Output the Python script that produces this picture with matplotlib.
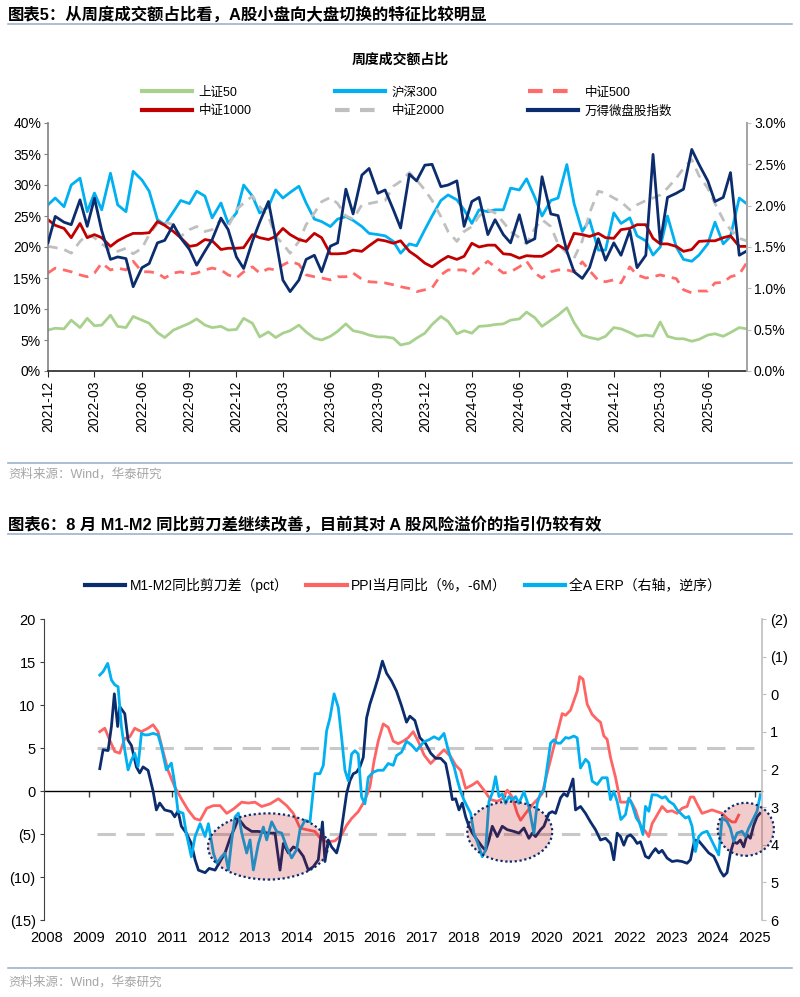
import numpy as np
import pandas as pd
import matplotlib
matplotlib.use("Agg")
import matplotlib.pyplot as plt
import matplotlib.dates as mdates
from matplotlib.patches import Ellipse
from matplotlib.lines import Line2D
from matplotlib.ticker import FuncFormatter

plt.rcParams['font.family'] = ['Liberation Sans', 'Noto Sans CJK SC', 'DejaVu Sans']
plt.rcParams['axes.unicode_minus'] = False

# ---------------- 图表5 data (semi-monthly, %)
dates5 = pd.date_range('2021-12-01', '2025-08-15', freq='SMS')
x_ticks5 = pd.date_range('2021-12-01', '2025-06-01', freq='3MS')

sz50 = [6.6, 6.9, 6.8, 8.2, 7.0, 8.5,
        7.3, 7.4, 9.0, 7.2, 7.0, 8.8,
        8.2, 7.7, 6.2, 5.4, 6.6, 7.1,
        7.7, 8.4, 7.4, 7.0, 7.2, 6.6,
        6.7, 8.5, 7.7, 5.5, 6.3, 5.4,
        6.1, 6.5, 7.4, 6.3, 5.3, 5.0,
        5.6, 6.4, 7.6, 6.5, 6.2, 5.8,
        5.5, 5.5, 5.3, 4.2, 4.5, 5.3,
        6.1, 7.5, 8.8, 8.0, 6.0, 6.5,
        6.1, 7.2, 7.3, 7.5, 7.6, 8.2,
        8.4, 9.5, 8.6, 7.2, 8.2, 9.0,
        10.2, 7.8, 5.8, 5.4, 5.1, 5.6,
        7.0, 6.8, 6.2, 5.6, 5.8, 5.6,
        7.9, 5.6, 5.2, 5.2, 4.8, 5.1,
        5.8, 6.0, 5.6, 6.2, 7.0, 6.8]

hs300 = [26.8, 27.9, 26.5, 30.0, 31.1, 25.7,
         28.7, 26.0, 31.9, 26.8, 25.7, 32.2,
         30.8, 29.0, 24.4, 23.6, 25.7, 27.5,
         27.0, 29.0, 28.2, 24.7, 27.1, 23.8,
         25.5, 30.0, 28.2, 25.5, 26.5, 29.2,
         27.9, 28.8, 29.8, 27.1, 24.5, 24.1,
         23.3, 24.5, 24.9, 24.3, 23.3, 22.2,
         22.0, 21.8, 20.9, 19.0, 20.5, 20.2,
         22.8, 25.0, 27.5, 28.4, 27.6, 26.0,
         23.8, 26.0, 25.7, 26.0, 26.0, 29.5,
         29.2, 31.0, 28.0, 25.0, 27.5, 27.9,
         33.3, 27.0, 22.5, 24.4, 19.5, 19.5,
         25.5, 23.8, 24.7, 21.8, 21.0, 18.7,
         20.0, 25.0, 20.0, 18.0, 17.7, 18.7,
         20.5, 24.0, 20.5, 21.7, 27.9, 27.0]

csi500 = [15.8, 16.6, 16.3, 16.0, 15.5, 15.2,
          15.8, 17.4, 16.3, 16.6, 16.3, 17.7,
          16.0, 16.0, 15.8, 15.0, 15.8, 16.0,
          15.6, 15.8, 16.3, 16.6, 16.3, 15.5,
          15.0, 16.0, 16.8, 15.8, 16.5, 16.3,
          17.1, 17.7, 17.2, 15.5, 15.2, 15.0,
          14.7, 15.2, 15.2, 15.8, 14.8, 14.4,
          14.3, 14.2, 13.9, 13.6, 13.3, 12.8,
          13.1, 13.4, 15.5, 16.3, 16.3, 16.3,
          15.5, 16.6, 17.7, 16.8, 15.8, 16.0,
          16.8, 17.7, 15.8, 15.0, 16.0, 16.3,
          16.3, 16.0, 17.6, 16.2, 14.6, 14.4,
          14.7, 14.2, 16.8, 15.5, 15.0, 15.2,
          15.5, 15.2, 14.9, 13.1, 12.6, 12.9,
          12.9, 14.2, 14.3, 15.2, 15.6, 17.4]

csi1000 = [24.4, 23.5, 23.0, 21.5, 23.8, 21.5,
           22.0, 21.5, 20.1, 21.0, 21.7, 22.2,
           22.2, 22.3, 24.1, 23.5, 22.5, 21.5,
           20.1, 20.3, 21.2, 21.0, 19.6, 19.8,
           19.8, 19.9, 22.0, 21.5, 21.2, 21.7,
           23.0, 22.0, 21.2, 20.9, 22.2, 21.5,
           18.9, 18.9, 19.0, 19.5, 19.3, 20.2,
           21.2, 21.0, 20.6, 21.0, 19.3, 18.5,
           17.4, 16.8, 17.8, 18.5, 18.0, 18.5,
           20.6, 20.0, 20.3, 20.3, 18.9, 18.8,
           18.2, 18.6, 18.5, 18.5, 19.3, 20.3,
           19.5, 22.2, 22.0, 21.7, 22.2, 21.5,
           21.4, 22.8, 23.0, 23.6, 23.6, 21.4,
           20.5, 20.5, 20.1, 19.3, 19.6, 20.9,
           21.0, 21.0, 21.5, 21.8, 20.1, 20.1]

csi2000 = [20.1, 19.9, 19.6, 19.0, 20.9, 22.0,
           21.5, 20.5, 19.5, 19.3, 19.8, 18.9,
           19.8, 22.0, 23.8, 24.0, 23.6, 21.7,
           22.8, 23.3, 22.5, 22.8, 24.4, 23.3,
           26.0, 27.1, 28.2, 26.5, 24.9, 21.7,
           20.5, 19.0, 20.9, 23.6, 25.5, 27.3,
           28.0, 27.0, 25.0, 24.5, 26.8, 27.0,
           27.3, 27.5, 29.8, 30.6, 32.0, 30.8,
           29.2, 27.5, 24.9, 22.5, 20.9, 22.5,
           23.3, 25.0, 26.0, 25.5, 24.0, 22.5,
           21.5, 20.5, 23.0, 24.4, 23.3, 20.5,
           19.0, 18.2, 21.0, 25.5, 29.0, 28.7,
           27.9, 27.3, 26.0, 26.8, 27.5, 27.9,
           28.4, 29.5, 31.1, 32.7, 34.1, 31.5,
           29.5, 27.0, 24.4, 22.8, 21.4, 21.0]

# 万得微盘股指数, right axis
microcap = [1.55, 1.87, 1.80, 1.77, 2.07, 1.75,
            2.09, 1.70, 1.35, 1.38, 1.36, 1.02,
            1.25, 1.30, 1.55, 1.58, 1.77, 1.61,
            1.47, 1.28, 1.45, 1.59, 1.85, 1.71,
            1.38, 1.24, 1.57, 1.80, 2.05, 1.60,
            1.10, 0.96, 1.10, 1.35, 1.40, 1.20,
            1.51, 1.55, 2.20, 1.90, 2.37, 2.45,
            2.15, 2.19, 1.95, 1.73, 2.38, 2.30,
            2.49, 2.50, 2.23, 2.25, 2.30, 1.75,
            2.05, 2.10, 1.65, 1.83, 1.65, 1.55,
            1.89, 1.55, 1.60, 2.35, 1.90, 1.88,
            1.45, 1.20, 1.12, 1.25, 1.60, 1.34,
            1.55, 1.40, 1.70, 1.25, 1.40, 2.62,
            1.55, 2.10, 2.15, 2.20, 2.68, 2.50,
            2.30, 2.05, 2.10, 2.40, 1.40, 1.45]

# ---------------- 图表6 data (x in chart years)
m1m2_t = [2009.27, 2009.35, 2009.47, 2009.55, 2009.62, 2009.70, 2009.75, 2009.87, 2009.95, 2010.03,
          2010.15, 2010.23, 2010.31, 2010.43, 2010.55, 2010.63, 2010.71, 2010.83, 2010.99, 2011.07,
          2011.15, 2011.23, 2011.35, 2011.47, 2011.56, 2011.64, 2011.80, 2011.90, 2012.04, 2012.16,
          2012.28, 2012.40, 2012.52, 2012.60, 2012.76, 2012.92, 2013.08, 2013.20, 2013.32, 2013.48,
          2013.60, 2013.68, 2013.80, 2013.92, 2014.04, 2014.16, 2014.28, 2014.40, 2014.52, 2014.62,
          2014.68, 2014.76, 2014.84, 2014.96, 2015.04, 2015.12, 2015.20, 2015.28, 2015.36, 2015.44,
          2015.52, 2015.60, 2015.68, 2015.76, 2015.86, 2015.96, 2016.06, 2016.16, 2016.28, 2016.40,
          2016.52, 2016.64, 2016.72, 2016.84, 2016.96, 2017.10, 2017.22, 2017.34, 2017.46, 2017.58,
          2017.66, 2017.74, 2017.82, 2017.90, 2017.98, 2018.06, 2018.14, 2018.22, 2018.34, 2018.46,
          2018.54, 2018.62, 2018.70, 2018.82, 2018.94, 2019.06, 2019.22, 2019.34, 2019.46, 2019.58,
          2019.66, 2019.74, 2019.86, 2019.94, 2020.06, 2020.14, 2020.22, 2020.34, 2020.42, 2020.50,
          2020.58, 2020.64, 2020.70, 2020.82, 2020.94, 2021.06, 2021.18, 2021.30, 2021.42, 2021.54,
          2021.62, 2021.70, 2021.78, 2021.86, 2021.94, 2022.02, 2022.10, 2022.18, 2022.26, 2022.38,
          2022.46, 2022.54, 2022.62, 2022.70, 2022.78, 2022.90, 2023.02, 2023.14, 2023.26, 2023.38,
          2023.46, 2023.56, 2023.66, 2023.78, 2023.90, 2024.02, 2024.10, 2024.18, 2024.26, 2024.34,
          2024.42, 2024.50, 2024.58, 2024.66, 2024.74, 2024.82, 2024.90, 2024.98, 2025.06, 2025.13]
m1m2 = [2.6, 4.8, 4.7, 7.5, 11.3, 7.5, 9.8, 9.0, 5.9, 5.3,
        2.8, 2.1, 2.8, 2.4, 0.0, -2.2, -1.4, -2.2, -2.4, -3.0,
        -2.3, -4.1, -4.9, -6.1, -8.0, -9.2, -9.5, -9.0, -9.2, -8.2,
        -7.2, -5.5, -4.2, -3.2, -4.2, -4.7, -4.7, -4.8, -4.9, -4.9,
        -9.2, -6.1, -7.2, -6.5, -6.8, -7.6, -9.2, -8.8, -8.0, -3.6,
        -8.2, -5.7, -6.5, -7.2, -5.7, -3.0, -0.3, 1.2, 2.0, 2.2,
        2.8, 3.9, 8.5, 10.1, 11.6, 13.2, 15.1, 13.7, 12.8, 11.6,
        9.9, 8.0, 8.7, 8.2, 6.2, 5.5, 4.4, 3.8, 3.8, 3.2,
        1.3, -1.0, -0.9, -2.2, -1.4, -3.0, -4.1, -4.9, -5.7, -6.5,
        -6.9, -5.7, -4.1, -5.3, -4.1, -4.5, -4.7, -4.9, -4.3, -5.5,
        -4.9, -5.3, -4.5, -4.1, -2.6, -2.4, -2.6, -0.8, -0.3, -0.6,
        0.5, 1.4, -2.2, -1.8, -2.6, -3.6, -4.5, -5.7, -5.5, -6.1,
        -8.0, -4.9, -5.3, -6.3, -5.3, -5.1, -5.5, -6.1, -5.9, -7.6,
        -7.8, -7.2, -6.7, -7.2, -6.9, -7.8, -8.2, -8.1, -8.2, -8.4,
        -8.0, -5.7, -5.8, -6.5, -7.2, -7.6, -8.4, -9.3, -9.9, -9.5,
        -7.2, -5.9, -6.1, -5.7, -6.5, -5.1, -5.5, -4.0, -3.0, -2.6]

ppi_t = [2009.27, 2009.39, 2009.51, 2009.63, 2009.75, 2009.87, 2009.99, 2010.11, 2010.27, 2010.43,
         2010.55, 2010.67, 2010.79, 2010.91, 2011.07, 2011.23, 2011.39, 2011.55, 2011.68, 2011.84,
         2012.00, 2012.16, 2012.32, 2012.48, 2012.68, 2012.84, 2013.00, 2013.16, 2013.36, 2013.56,
         2013.76, 2013.92, 2014.08, 2014.24, 2014.44, 2014.60, 2014.76, 2014.92, 2015.08, 2015.20,
         2015.32, 2015.48, 2015.64, 2015.76, 2015.86, 2015.96, 2016.08, 2016.20, 2016.32, 2016.44,
         2016.56, 2016.68, 2016.80, 2016.92, 2017.06, 2017.22, 2017.38, 2017.54, 2017.70, 2017.82,
         2017.94, 2018.06, 2018.22, 2018.34, 2018.50, 2018.66, 2018.82, 2018.94, 2019.06, 2019.18,
         2019.30, 2019.38, 2019.50, 2019.66, 2019.78, 2019.90, 2020.02, 2020.14, 2020.26, 2020.38,
         2020.46, 2020.58, 2020.66, 2020.74, 2020.80, 2020.88, 2020.98, 2021.10, 2021.22, 2021.30,
         2021.38, 2021.46, 2021.54, 2021.66, 2021.78, 2021.90, 2022.02, 2022.14, 2022.26, 2022.38,
         2022.46, 2022.54, 2022.66, 2022.78, 2022.90, 2023.02, 2023.14, 2023.26, 2023.38, 2023.46,
         2023.54, 2023.62, 2023.74, 2023.86, 2023.98, 2024.10, 2024.22, 2024.34, 2024.46, 2024.54,
         2024.62]
ppi = [6.9, 7.3, 5.9, 4.6, 4.4, 6.1, 6.3, 7.3, 6.9, 7.3,
       7.7, 6.9, 4.6, 2.4, 0.5, -0.9, -2.2, -3.2, -3.4, -2.0,
       -1.7, -1.7, -2.6, -2.1, -1.3, -1.4, -1.3, -1.8, -1.5, -0.9,
       -1.7, -2.6, -4.3, -4.5, -4.7, -5.7, -5.9, -5.8, -5.1, -4.0,
       -3.2, -2.4, -1.1, 0.5, 3.5, 5.8, 7.8, 7.4, 5.8, 5.5,
       5.8, 6.2, 6.9, 5.8, 4.2, 3.2, 4.0, 4.8, 4.0, 3.0,
       2.4, 0.3, 0.7, 1.1, 0.1, -1.0, -1.2, -0.9, 0.1, -0.7,
       -2.6, -3.4, -2.6, -1.6, -1.0, -0.3, 2.1, 4.4, 6.7, 9.0,
       8.8, 9.4, 10.5, 11.6, 13.3, 13.0, 10.1, 8.9, 8.3, 8.0,
       6.4, 6.0, 3.9, 1.6, -1.3, -1.3, -1.1, -2.2, -4.0, -4.7,
       -5.3, -3.8, -2.8, -1.8, -2.4, -2.3, -2.6, -2.0, -1.8, -0.7,
       -0.7, -1.5, -2.6, -2.4, -2.2, -2.4, -2.6, -3.2, -3.6, -3.6,
       -2.8]

# 全A ERP, right axis (reversed)
erp_t = [2009.27, 2009.35, 2009.46, 2009.55, 2009.63, 2009.71, 2009.79, 2009.87, 2009.95, 2010.03,
         2010.11, 2010.19, 2010.27, 2010.35, 2010.43, 2010.55, 2010.67, 2010.75, 2010.87, 2010.99,
         2011.07, 2011.15, 2011.27, 2011.35, 2011.47, 2011.56, 2011.68, 2011.80, 2011.88, 2012.00,
         2012.08, 2012.20, 2012.28, 2012.36, 2012.44, 2012.52, 2012.60, 2012.68, 2012.80, 2012.88,
         2012.96, 2013.08, 2013.20, 2013.28, 2013.40, 2013.52, 2013.64, 2013.76, 2013.88, 2014.00,
         2014.08, 2014.20, 2014.32, 2014.44, 2014.56, 2014.64, 2014.72, 2014.80, 2014.90, 2015.00,
         2015.08, 2015.16, 2015.24, 2015.32, 2015.40, 2015.48, 2015.56, 2015.64, 2015.72, 2015.84,
         2015.96, 2016.08, 2016.20, 2016.32, 2016.40, 2016.52, 2016.64, 2016.76, 2016.88, 2016.96,
         2017.06, 2017.18, 2017.30, 2017.42, 2017.54, 2017.62, 2017.70, 2017.78, 2017.86, 2017.94,
         2018.02, 2018.10, 2018.18, 2018.26, 2018.35, 2018.46, 2018.54, 2018.62, 2018.70, 2018.78,
         2018.86, 2018.94, 2019.02, 2019.10, 2019.18, 2019.26, 2019.34, 2019.46, 2019.58, 2019.70,
         2019.78, 2019.86, 2019.94, 2020.02, 2020.10, 2020.18, 2020.26, 2020.34, 2020.46, 2020.54,
         2020.66, 2020.74, 2020.82, 2020.94, 2021.02, 2021.10, 2021.22, 2021.34, 2021.46, 2021.54,
         2021.62, 2021.70, 2021.79, 2021.90, 2021.98, 2022.06, 2022.16, 2022.24, 2022.32, 2022.38,
         2022.46, 2022.54, 2022.66, 2022.78, 2022.86, 2022.94, 2023.06, 2023.14, 2023.22, 2023.34,
         2023.42, 2023.50, 2023.58, 2023.66, 2023.74, 2023.86, 2023.98, 2024.06, 2024.14, 2024.22,
         2024.34, 2024.42, 2024.50, 2024.58, 2024.70, 2024.78, 2024.86, 2024.98, 2025.06, 2025.14]
erp = [-0.51, -0.60, -0.82, -0.38, -0.25, -0.20, 0.86, 1.48, 2.01, 1.75,
       1.57, 1.92, 1.04, 1.08, 1.08, 1.04, 1.08, 1.39, 2.01, 1.83,
       2.37, 3.12, 3.16, 3.70, 4.32, 3.78, 3.44, 3.78, 3.44, 4.22,
       4.49, 4.31, 4.22, 4.67, 3.87, 3.26, 3.16, 3.69, 4.22, 3.87,
       4.67, 3.97, 3.53, 3.87, 3.39, 3.65, 3.69, 4.06, 4.35, 4.13,
       3.60, 3.35, 3.39, 2.11, 2.11, 1.89, 0.97, 0.63, -0.01, 0.35,
       1.15, 2.02, 2.30, 1.59, 1.50, 1.59, 2.73, 2.91, 2.21, 2.07,
       2.02, 2.02, 1.84, 1.89, 1.63, 1.54, 1.25, 1.35, 1.50, 1.39,
       1.26, 1.21, 1.13, 1.20, 1.04, 1.39, 1.70, 1.92, 2.28, 2.59,
       2.81, 2.99, 3.16, 3.70, 3.96, 4.32, 4.14, 2.85, 2.63, 2.19,
       2.72, 2.65, 2.90, 2.72, 2.81, 2.72, 2.90, 2.59, 2.99, 3.70,
       2.90, 2.63, 2.55, 1.92, 1.30, 1.21, 1.30, 1.30, 1.15, 1.17,
       1.11, 1.16, 1.96, 1.73, 1.82, 2.31, 2.40, 2.22, 2.22, 2.80,
       2.58, 2.85, 3.33, 3.20, 2.76, 2.93, 3.29, 3.42, 3.73, 2.98,
       3.11, 2.67, 2.68, 2.76, 2.72, 2.84, 2.93, 3.07, 3.16, 3.29,
       3.25, 3.51, 4.18, 3.78, 3.69, 3.64, 3.91, 4.09, 4.27, 3.29,
       3.38, 3.56, 3.91, 3.69, 3.64, 3.78, 3.56, 3.29, 3.11, 2.67]

years6 = list(range(2008, 2026))

NAVY = '#0b2d6e'
LBLUE = '#00b0f0'
W, H = 800, 997

fig = plt.figure(figsize=(W / 100, H / 100), dpi=100)


def fx(px):
    return px / W


def fy(py):
    return 1 - py / H


def rule(py):
    fig.add_artist(Line2D([fx(8), fx(792)], [fy(py), fy(py)], color='#9db3cc', lw=1.2))


# ---------------- 图表5
fig.text(fx(8), fy(14), '图表5：从周度成交额占比看，A股小盘向大盘切换的特征比较明显',
         fontsize=11.8, fontweight='bold', va='center', ha='left')
rule(24)
fig.text(fx(400), fy(60), '周度成交额占比', fontsize=10, fontweight='bold', ha='center', va='center')

ax = fig.add_axes([fx(48), fy(371), fx(747 - 48), (371 - 123) / H])
ax2 = ax.twinx()

l_sz50, = ax.plot(dates5, sz50, color='#a9d18e', lw=2.0, label='上证50')
l_hs300, = ax.plot(dates5, hs300, color=LBLUE, lw=2.0, label='沪深300')
l_500, = ax.plot(dates5, csi500, color='#ff6b6b', lw=2.0, dashes=(3.5, 2.5), label='中证500')
l_2000, = ax.plot(dates5, csi2000, color='#bfbfbf', lw=2.0, dashes=(3.5, 2.5), label='中证2000')
l_1000, = ax.plot(dates5, csi1000, color='#c00000', lw=2.0, label='中证1000')
l_micro, = ax2.plot(dates5, microcap, color=NAVY, lw=2.0, label='万得微盘股指数')

ax.set_ylim(0, 40)
ax.set_yticks(range(0, 41, 5))
ax.yaxis.set_major_formatter(FuncFormatter(lambda v, p: f'{v:.0f}%'))
ax2.set_ylim(0, 3.0)
ax2.set_yticks(np.arange(0, 3.01, 0.5))
ax2.yaxis.set_major_formatter(FuncFormatter(lambda v, p: f'{v:.1f}%'))
ax.set_xlim(pd.Timestamp('2021-12-01'), pd.Timestamp('2025-08-16'))
ax.set_xticks(x_ticks5)
ax.xaxis.set_major_formatter(mdates.DateFormatter('%Y-%m'))
ax.tick_params(axis='x', labelrotation=90, labelsize=10, length=4, color='#262626', pad=3)
ax.tick_params(axis='y', labelsize=10, length=3, color='#808080', pad=2)
ax2.tick_params(axis='y', labelsize=10, length=3, color='#bfbfbf', pad=2)
for a in (ax, ax2):
    a.spines['top'].set_visible(False)
ax.spines['left'].set_color('#808080')
ax.spines['bottom'].set_color('#262626')
ax2.spines['left'].set_visible(False)
ax2.spines['bottom'].set_visible(False)
ax2.spines['right'].set_color('#bfbfbf')
for a in (ax, ax2):
    for s in a.spines.values():
        s.set_linewidth(1.2)

handles5 = [l_sz50, l_1000, l_hs300, l_2000, l_500, l_micro]
fig.legend(handles=handles5, labels=[h.get_label() for h in handles5], ncol=3,
           loc='center', bbox_to_anchor=(fx(407), fy(102)), frameon=False, fontsize=9,
           handlelength=4.0, handletextpad=0.5, columnspacing=6.7, labelspacing=0.55)

rule(463)
fig.text(fx(8), fy(474), '资料来源：Wind，华泰研究', fontsize=9, color='#a6a6a6', va='center')

# ---------------- 图表6
fig.text(fx(8), fy(524), '图表6：8 月 M1-M2 同比剪刀差继续改善，目前其对 A 股风险溢价的指引仍较有效',
         fontsize=11.8, fontweight='bold', va='center', ha='left')
rule(534)

bx = fig.add_axes([fx(44), fy(920), fx(762 - 44), (920 - 619) / H])
bx2 = bx.twinx()

bx.hlines([5, -5], 2009.2, 2025.18, colors='#c8c8c8', lw=2.2, linestyles=(0, (6, 3.5)), zorder=1)
l_m1m2, = bx.plot(m1m2_t, m1m2, color=NAVY, lw=2.0, label='M1-M2同比剪刀差（pct）', zorder=3)
l_ppi, = bx.plot(ppi_t, ppi, color='#ff6464', lw=2.0, label='PPI当月同比（%，-6M）', zorder=2)
l_erp, = bx2.plot(erp_t, erp, color=LBLUE, lw=2.0, label='全A ERP（右轴，逆序）')

bx.set_xlim(2007.93, 2025.18)
bx.set_ylim(-15, 20)
bx.set_yticks(range(-15, 21, 5))
bx.yaxis.set_major_formatter(FuncFormatter(lambda v, p: f'({abs(v):.0f})' if v < 0 else f'{v:.0f}'))
bx2.set_ylim(6, -2)
bx2.set_yticks(range(-2, 7))
bx2.yaxis.set_major_formatter(FuncFormatter(lambda v, p: f'({abs(v):.0f})' if v < 0 else f'{v:.0f}'))
bx.set_xticks(years6)
bx.set_xticklabels([str(y) for y in years6])
bx.tick_params(axis='x', length=0, labelsize=10.5, pad=8)
bx.tick_params(axis='y', labelsize=10.5, length=3, color='#404040', pad=3)
bx2.tick_params(axis='y', labelsize=10.5, length=3, color='#bfbfbf', pad=3)
for a in (bx, bx2):
    a.spines['top'].set_visible(False)
    a.spines['bottom'].set_visible(False)
bx.spines['right'].set_visible(False)
bx2.spines['left'].set_visible(False)
bx.spines['left'].set_color('#404040')
bx2.spines['right'].set_color('#bfbfbf')
bx2.spines['right'].set_linewidth(1.2)

# zero line with year ticks
zero_ax = bx.secondary_xaxis(15 / 35)
zero_ax.set_xticks(years6[1:])
zero_ax.xaxis.set_ticklabels([])
zero_ax.tick_params(axis='x', direction='out', length=4, color='#404040', width=1)
zero_ax.spines['bottom'].set_color('black')
zero_ax.spines['bottom'].set_linewidth(1.0)

# highlighted regions (drawn above the lines, in left-axis units)
ellipses = [(2013.31, -6.45, 2.88, 7.7), (2019.12, -4.72, 2.04, 6.98), (2024.79, -4.46, 1.35, 6.16)]
for cx, cy, w, h in ellipses:
    e = Ellipse((cx, cy), w, h, transform=bx.transData, facecolor=(0.75, 0.0, 0.0, 0.2),
                edgecolor=NAVY, lw=1.6, linestyle=(0, (1, 1.2)), clip_on=False, zorder=5)
    bx2.add_patch(e)
bx2.set_ylim(6, -2)

handles6 = [l_m1m2, l_ppi, l_erp]
fig.legend(handles=handles6, labels=[h.get_label() for h in handles6], ncol=3,
           loc='center', bbox_to_anchor=(fx(403), fy(585)), frameon=False, fontsize=10,
           handlelength=2.9, handletextpad=0.3, columnspacing=1.3)
for h in fig.legends[-1].get_lines():
    h.set_linewidth(3.0)
for h in fig.legends[0].get_lines():
    h.set_linewidth(3.0)

rule(968)
fig.text(fx(8), fy(982), '资料来源：Wind，华泰研究', fontsize=9, color='#a6a6a6', va='center')

fig.savefig('out.png', dpi=100)
